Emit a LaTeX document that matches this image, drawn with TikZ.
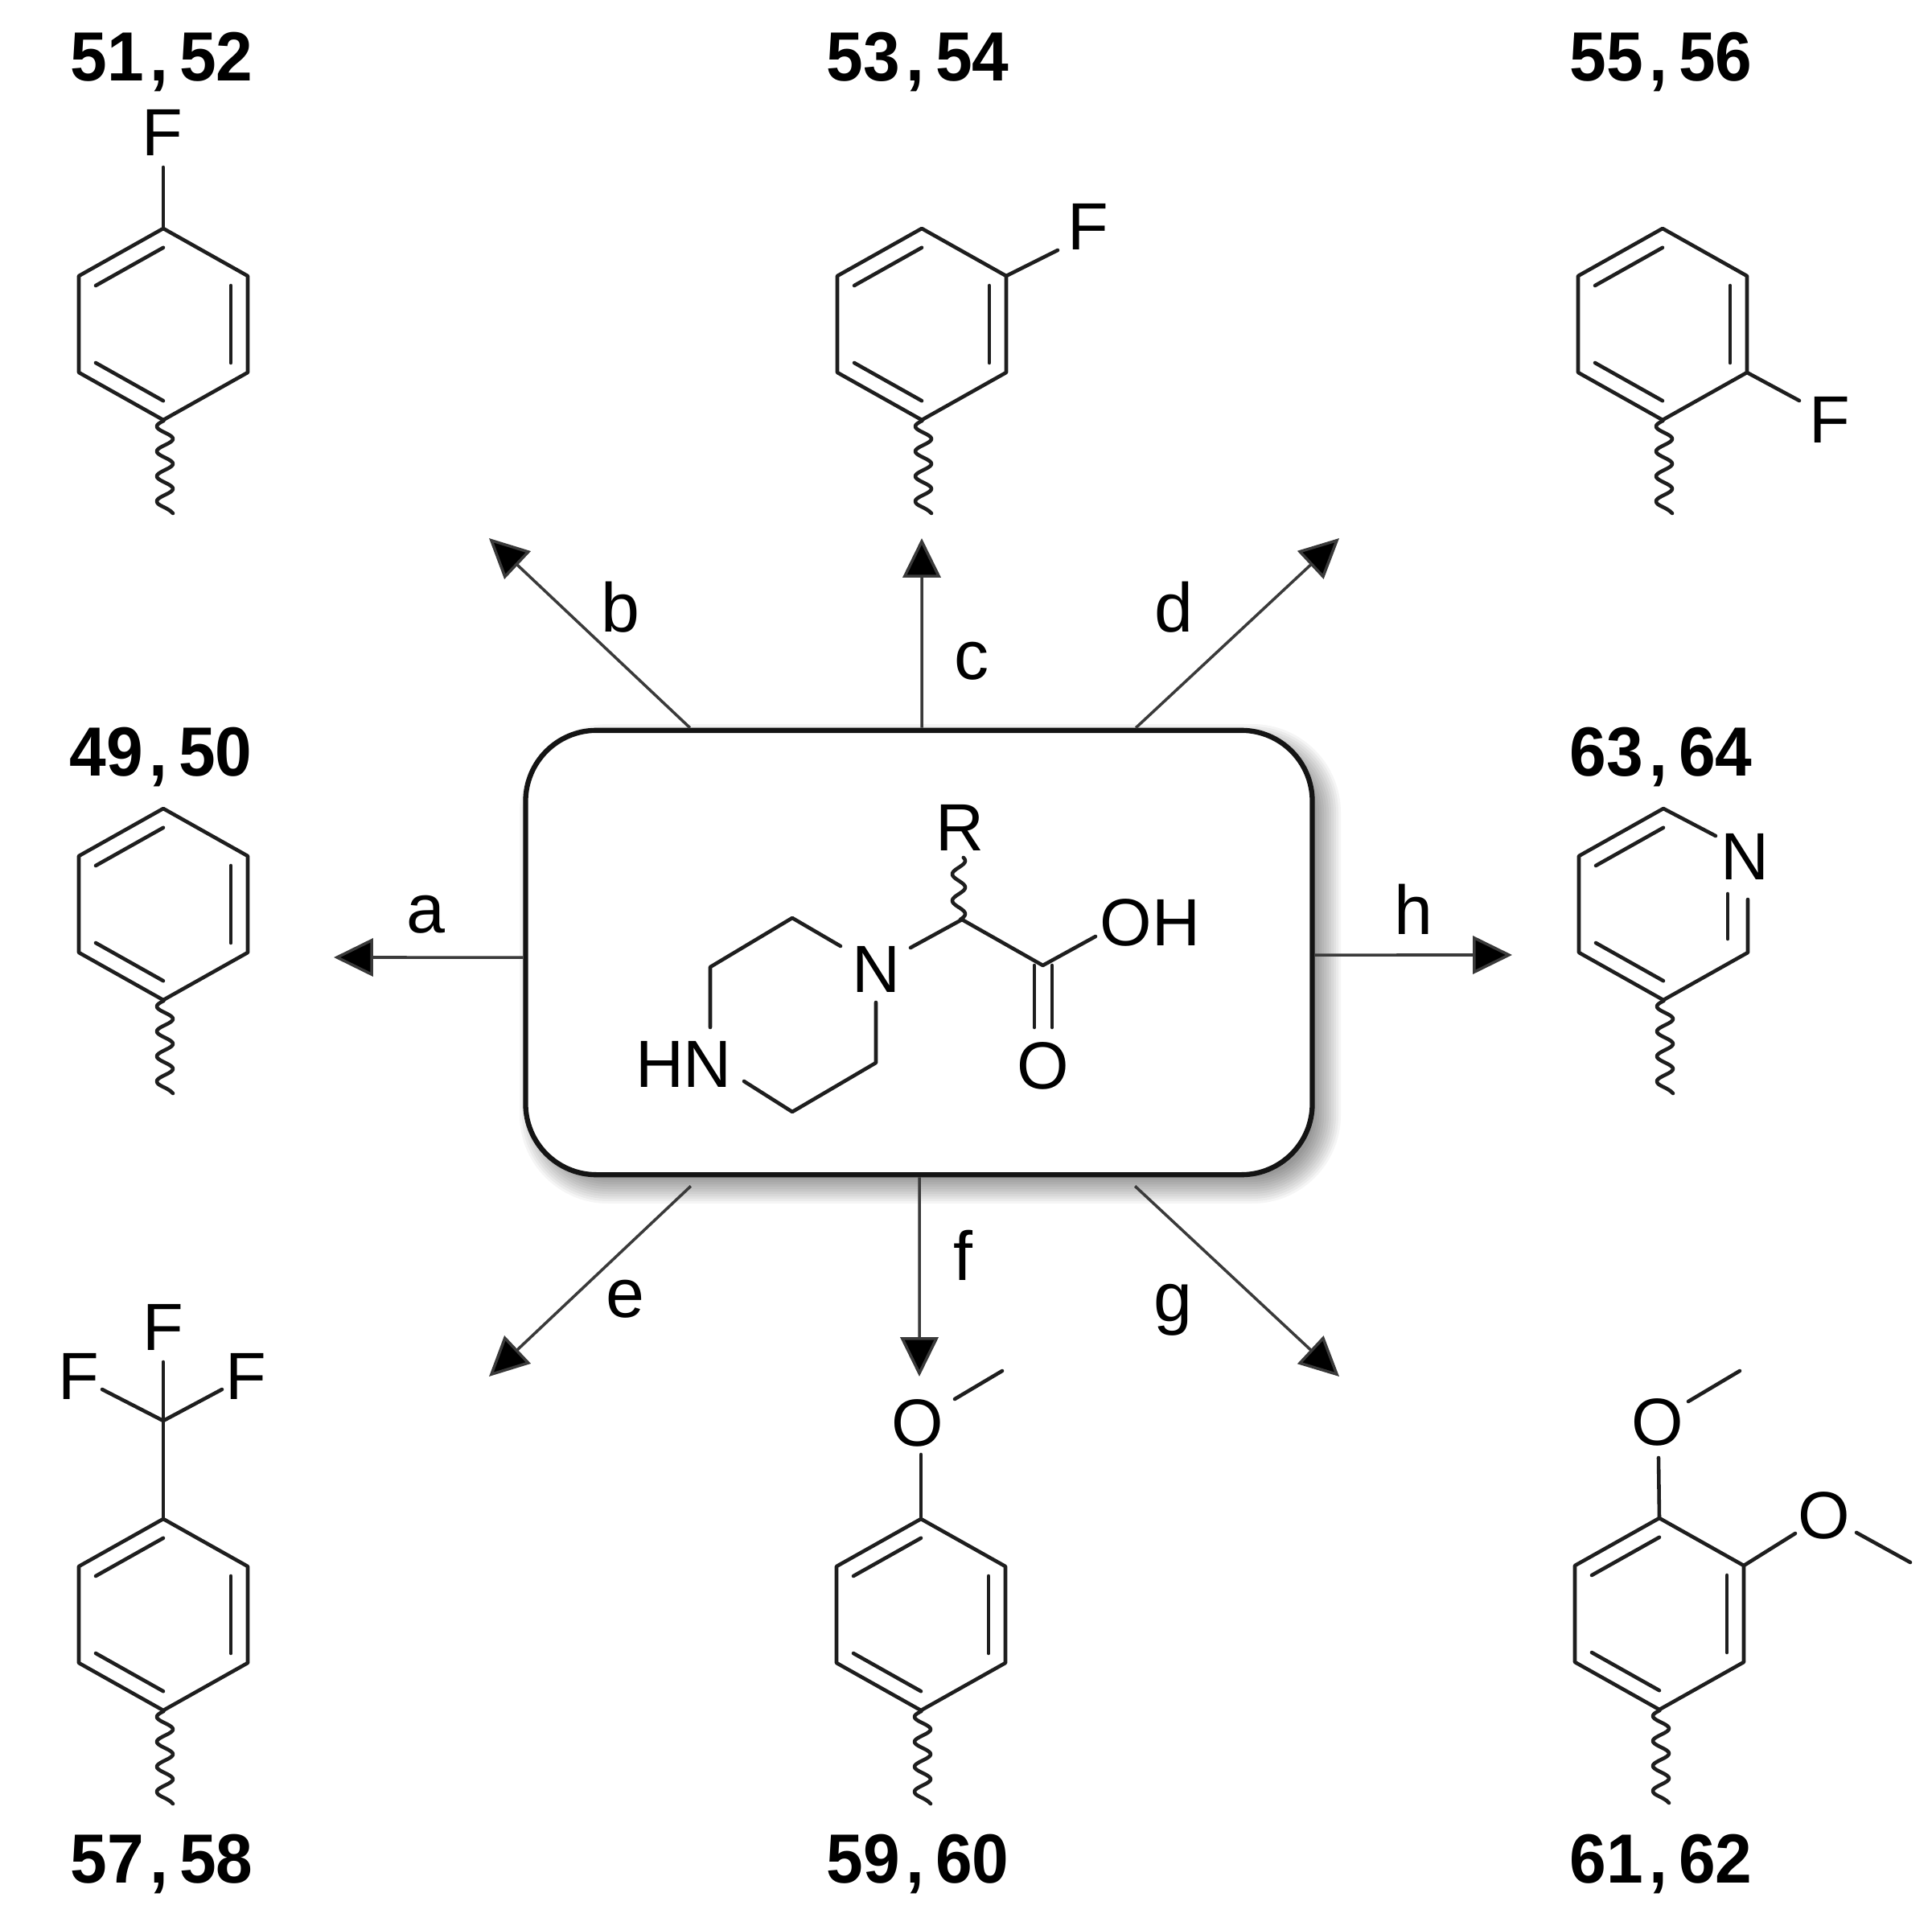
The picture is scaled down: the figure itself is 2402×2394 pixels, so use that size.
\documentclass[tikz,border=0pt]{standalone}
\usepackage{graphicx}
\usepackage{fontspec}
\setmainfont{Liberation Sans}
\usetikzlibrary{arrows.meta,calc}
\definecolor{ink}{HTML}{1E1E1E}
\definecolor{arrowink}{HTML}{3A3A3A}
\tikzset{
  atom/.style={inner sep=0pt,outer sep=0pt,text=black,font=\fontsize{23.6}{24}\selectfont},
  letterlabel/.style={inner sep=0pt,outer sep=0pt,text=black,font=\fontsize{24.5}{25}\selectfont},
  numlabel/.style={inner sep=0pt,outer sep=0pt,text=black,font=\fontsize{24.6}{25}\selectfont\bfseries},
  bond/.style={draw=ink,line width=1.3pt,line cap=round,line join=round},
  rxn/.style={draw=arrowink,line width=1pt,-{Triangle[length=13.9pt,width=13.4pt,fill=black]}},
  mainbox/.style={draw=black!92,line width=1.8pt,fill=white,rounded corners=0.88cm,minimum width=9.775cm,minimum height=5.52cm,inner sep=0pt},
}
\newcommand{\pair}[2]{\scalebox{0.949}[1]{#1\kern2.3pt,\ \kern-2.6pt#2}}
\newcommand{\ringverts}[3]{%
  \coordinate (#1c) at (#2,#3);
  \coordinate (#1v1) at ({#2},{#3-119});
  \coordinate (#1v2) at ({#2+105},{#3-60});
  \coordinate (#1v3) at ({#2+105},{#3+60});
  \coordinate (#1v4) at ({#2},{#3+119});
  \coordinate (#1v5) at ({#2-105},{#3+60});
  \coordinate (#1v6) at ({#2-105},{#3-60});
}
\newcommand{\innerbonds}[1]{%
  \draw[bond] ($(#1c)!0.8!(#1v6)$) -- ($(#1c)!0.8!(#1v1)$);
  \draw[bond] ($(#1c)!0.8!(#1v2)$) -- ($(#1c)!0.8!(#1v3)$);
  \draw[bond] ($(#1c)!0.8!(#1v4)$) -- ($(#1c)!0.8!(#1v5)$);
}
\newcommand{\wavy}[2]{%
  \draw[bond,samples=80,domain=-7:93,variable=\t]
    plot ({#1+2-10*cos(11.613*\t)},{#2+127+\t})
    .. controls ({#1-8},{#2+226}) and ({#1+5},{#2+227}) .. ({#1+12},{#2+235});
}
\newcommand{\fullring}[3]{%
  \ringverts{#1}{#2}{#3}
  \draw[bond] (#1v1) -- (#1v2) -- (#1v3) -- (#1v4) -- (#1v5) -- (#1v6) -- cycle;
  \innerbonds{#1}
  \wavy{#2}{#3}
}
\begin{document}
\begin{tikzpicture}[x=0.01cm,y=-0.01cm]
\useasboundingbox (0,0) rectangle (2402,2394);
\fill[white] (0,0) rectangle (2402,2394);

% ---------- soft shadow of the central box
\foreach \m in {22,19,...,-11}{
  \pgfmathsetmacro{\rr}{(88+\m)*0.01}
  \fill[black,opacity=0.04,rounded corners=\rr cm]
    ({654+14-\m},{908+14-\m}) rectangle ({1631+14+\m},{1460+14+\m});
}
\node[mainbox] (main) at (1142.5,1184) {};

% ---------- reaction arrows
\coordinate (ta) at (415,1190);
\coordinate (tb) at (608,669);
\coordinate (tc) at (1146,669);
\coordinate (td) at (1665,669);
\coordinate (te) at (608,1711);
\coordinate (tf) at (1143,1711);
\coordinate (tg) at (1665,1711);
\coordinate (th) at (1880,1187);
\draw[rxn] ([yshift=-0.06cm]main.west) -- (ta);
\draw[rxn] ([xshift=-2.845cm]main.north) -- (tb);
\draw[rxn] ([xshift=0.035cm]main.north) -- (tc);
\draw[rxn] ([xshift=2.695cm]main.north) -- (td);
\draw[rxn] ([xshift=-2.835cm,yshift=-0.11cm]main.south) -- (te);
\draw[rxn] ([xshift=0.005cm]main.south) -- (tf);
\draw[rxn] ([xshift=2.685cm,yshift=-0.11cm]main.south) -- (tg);
\draw[rxn] ([yshift=-0.03cm]main.east) -- (th);

\node[letterlabel] (la) at (529,1137) {a};
\node[letterlabel] (lb) at (771,755) {b};
\node[letterlabel] (lc) at (1208,822) {c};
\node[letterlabel] (ld) at (1459,755) {d};
\node[letterlabel] (le) at (777,1615) {e};
\node[letterlabel] (lf) at (1197,1560) {f};
\node[letterlabel] (lg) at (1458,1628) {g};
\node[letterlabel] (lh) at (1757,1130) {h};

% ---------- central molecule
\node[atom] (hn) at (850,1323) {HN};
\node[atom] (n) at (1089,1205) {N};
\node[atom] (r) at (1193,1029) {R};
\node[atom] (oh) at (1430,1147) {OH};
\node[atom] (oc) at (1296.5,1325) {O};
\coordinate (p1) at (1045,1176);
\coordinate (p2) at (985,1141);
\coordinate (p3) at (883,1202);
\coordinate (p4) at (883,1277);
\coordinate (p5) at (925,1344);
\coordinate (p6) at (985,1382);
\coordinate (p7) at (1089,1321);
\coordinate (p8) at (1089,1246);
\coordinate (q1) at (1132,1178);
\coordinate (ch) at (1196,1143);
\coordinate (co) at (1296.5,1200);
\coordinate (q2) at (1362,1164);
\draw[bond] (p1) -- (p2) -- (p3) -- (p4);
\draw[bond] (p5) -- (p6) -- (p7) -- (p8);
\draw[bond] (q1) -- (ch) -- (co) -- (q2);
\draw[bond] (1286,1200) -- (1286,1277);
\draw[bond] (1308,1200) -- (1308,1277);
\draw[bond,samples=70,domain=1066:1143,variable=\t]
  plot ({1192+8*cos(10.909*(\t-1070))},{\t});

% ---------- 51, 52
\node[numlabel] (n51) at (201,76.5) {\pair{51}{52}};
\fullring{a}{203}{403}
\node[atom] (fa) at (202,165) {F};
\coordinate (ab) at (203,208);
\draw[bond] (av1) -- (ab);

% ---------- 53, 54
\node[numlabel] (n53) at (1141,76.5) {\pair{53}{54}};
\fullring{b}{1146}{403}
\node[atom] (fb) at (1353,282) {F};
\coordinate (bb) at (1315,311);
\draw[bond] (bv2) -- (bb);

% ---------- 55, 56
\node[numlabel] (n55) at (2065,76.5) {\pair{55}{56}};
\fullring{c}{2067}{403}
\node[atom] (fc) at (2275,522) {F};
\coordinate (cb) at (2237,498);
\draw[bond] (cv3) -- (cb);

% ---------- 49, 50
\node[numlabel] (n49) at (200,941) {\pair{49}{50}};
\fullring{d}{203}{1124}

% ---------- 63, 64 (pyridine)
\node[numlabel] (n63) at (2065,941) {\pair{63}{64}};
\ringverts{e}{2068}{1124}
\node[atom] (ne) at (2169,1065) {N};
\coordinate (eb1) at (2133,1039);
\coordinate (eb2) at (2173,1118);
\draw[bond] (eb1) -- (ev1) -- (ev6) -- (ev5) -- (ev4) -- (ev3) -- (eb2);
\draw[bond] ($(ec)!0.8!(ev6)$) -- ($(ec)!0.8!(ev1)$);
\draw[bond] ($(ec)!0.8!(ev4)$) -- ($(ec)!0.8!(ev5)$);
\draw[bond] (2148,1111) -- (2148,1167);
\wavy{2068}{1124}

% ---------- 57, 58
\node[numlabel] (n57) at (201,2317) {\pair{57}{58}};
\fullring{f}{203}{2007}
\coordinate (cf) at (203,1766);
\node[atom] (f1) at (203,1650) {F};
\node[atom] (f2) at (98,1711) {F};
\node[atom] (f3) at (306,1711) {F};
\coordinate (f1b) at (203,1693);
\coordinate (f2b) at (127,1727);
\coordinate (f3b) at (276,1727);
\draw[bond] (fv1) -- (cf) -- (f1b);
\draw[bond] (f2b) -- (cf) -- (f3b);

% ---------- 59, 60
\node[numlabel] (n59) at (1141,2317) {\pair{59}{60}};
\fullring{g}{1145}{2007}
\node[atom] (og) at (1141,1769) {O};
\coordinate (gb) at (1145,1808);
\coordinate (gm1) at (1187,1739);
\coordinate (gm2) at (1246,1704);
\draw[bond] (gv1) -- (gb);
\draw[bond] (gm1) -- (gm2);

% ---------- 61, 62
\node[numlabel] (n61) at (2065,2317) {\pair{61}{62}};
\fullring{h}{2063}{2006}
\node[atom] (oh1) at (2061,1768) {O};
\node[atom] (oh2) at (2268,1884) {O};
\coordinate (hb1) at (2062,1812);
\coordinate (hm1) at (2099,1742);
\coordinate (hm2) at (2163,1704);
\coordinate (hb2) at (2232,1906);
\coordinate (hm3) at (2308,1905);
\coordinate (hm4) at (2375,1942);
\draw[bond] (hv1) -- (hb1);
\draw[bond] (hm1) -- (hm2);
\draw[bond] (hv2) -- (hb2);
\draw[bond] (hm3) -- (hm4);
\end{tikzpicture}
\end{document}
